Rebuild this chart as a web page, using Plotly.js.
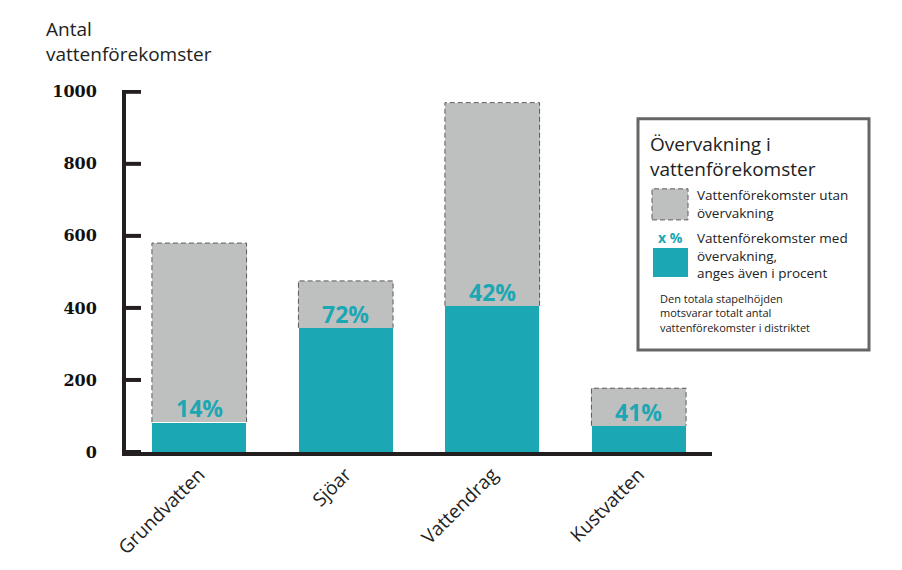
<!DOCTYPE html>
<html><head><meta charset="utf-8">
<script src="https://cdn.plot.ly/plotly-3.0.1.min.js"></script>
<style>html,body{margin:0;padding:0;background:#fff}#chart{width:902px;height:570px}</style>
</head><body><div id="chart"></div>
<script>
const categories = ["Grundvatten", "Sjöar", "Vattendrag", "Kustvatten"];
const totalCount = [580, 475, 970, 177];
const monitoredCount = [83, 345, 406, 73];
const percentLabels = ["14%", "72%", "42%", "41%"];
const yTickVals = [0, 200, 400, 600, 800, 1000];
const yTickText = ["0", "200", "400", "600", "800", "1000"];

const unmonitoredCount = totalCount.map((t, i) => t - monitoredCount[i]);

const TEAL = "#1ca7b4", GREY = "#bec0c0", DARK = "#231f20";
const YMAX = 1005;
const L = 126, W = 586, H = 360 * YMAX / 1000, T = 452 - H;
const px = x => (x - L) / W;
const py = y => (T + H - y) / H;
const BARGAP = 0.354, HALF = (1 - BARGAP) / 2;
const UNIT_PX = W / 4;

const traces = [
  {type: "bar", x: categories, y: monitoredCount, marker: {color: TEAL, line: {color: "#fff", width: 1}}, hoverinfo: "skip"},
  {type: "bar", x: categories, y: unmonitoredCount, marker: {color: GREY, line: {width: 0}}, hoverinfo: "skip"}
];

const shapes = [];
categories.forEach((c, i) => {
  const x0 = i - HALF, x1 = i + HALF;
  shapes.push({type: "path", xref: "x", yref: "y",
    path: `M ${x0},${monitoredCount[i]} L ${x0},${totalCount[i]} L ${x1},${totalCount[i]} L ${x1},${monitoredCount[i]}`,
    line: {color: "#5a5a5a", width: 1, dash: "5px,3px"}});
});
// y tick marks at the tick values, pointing into the plot
yTickVals.forEach(v => {
  shapes.push({type: "line", xref: "x", yref: "y", x0: -0.5, x1: -0.5 + 15 / UNIT_PX, y0: v, y1: v,
    line: {color: DARK, width: 4}});
});
// legend box
shapes.push({type: "rect", xref: "paper", yref: "paper", x0: px(638), x1: px(869), y0: py(350), y1: py(119),
  line: {color: "#666", width: 3}, fillcolor: "#fff", layer: "above"});
shapes.push({type: "rect", xref: "paper", yref: "paper", x0: px(652), x1: px(688), y0: py(220), y1: py(189),
  line: {color: "#5a5a5a", width: 1, dash: "5px,3px"}, fillcolor: GREY, layer: "above"});
shapes.push({type: "rect", xref: "paper", yref: "paper", x0: px(653), x1: px(688), y0: py(277), y1: py(248),
  line: {width: 0}, fillcolor: TEAL, layer: "above"});

const FONT = "Open Sans, sans-serif";
const annotations = [];
categories.forEach((c, i) => {
  annotations.push({x: i, y: monitoredCount[i], xref: "x", yref: "y", text: percentLabels[i],
    showarrow: false, yanchor: "bottom", xanchor: "center", yshift: -4,
    font: {family: FONT, size: 23, color: TEAL, weight: 700}});
});
const ann = (x, y, text, size, extra) => Object.assign({xref: "paper", yref: "paper", x: px(x), y: py(y), text: text,
  showarrow: false, xanchor: "left", yanchor: "top", align: "left",
  font: {family: FONT, size: size, color: "#222"}}, extra || {});
annotations.push(ann(44, 14, "Antal<br>vattenförekomster", 19));
annotations.push(ann(648, 129, "Övervakning i<br>vattenförekomster", 19));
annotations.push(ann(695, 184, "Vattenförekomster utan<br>övervakning", 13.5));
annotations.push(ann(695, 227, "Vattenförekomster med<br>övervakning,<br>anges även i procent", 13.5));
annotations.push(ann(658, 289, "Den totala stapelhöjden<br>motsvarar totalt antal<br>vattenförekomster i distriktet", 11));
annotations.push(ann(670, 226, "x %", 14, {xanchor: "center", font: {family: FONT, size: 14, color: TEAL, weight: 700}}));

const layout = {
  width: 902, height: 570,
  margin: {l: L, r: 902 - L - W, t: T, b: 570 - T - H},
  paper_bgcolor: "#fff", plot_bgcolor: "#fff",
  barmode: "stack", bargap: BARGAP, showlegend: false,
  xaxis: {type: "category", range: [-0.5, 3.5], showgrid: false, zeroline: false,
    showline: true, linecolor: DARK, linewidth: 4, ticks: "", tickangle: -45,
    tickfont: {family: FONT, size: 19, color: "#222"}},
  yaxis: {range: [0, YMAX], tickvals: yTickVals, ticktext: yTickText, showgrid: false, zeroline: false,
    showline: true, linecolor: DARK, linewidth: 4, ticks: "",
    ticklabelstandoff: 22,
    tickfont: {family: "DejaVu Serif, serif", size: 16, color: "#111", weight: 700}},
  shapes: shapes, annotations: annotations
};
Plotly.newPlot("chart", traces, layout, {displayModeBar: false, staticPlot: true});
</script></body></html>
